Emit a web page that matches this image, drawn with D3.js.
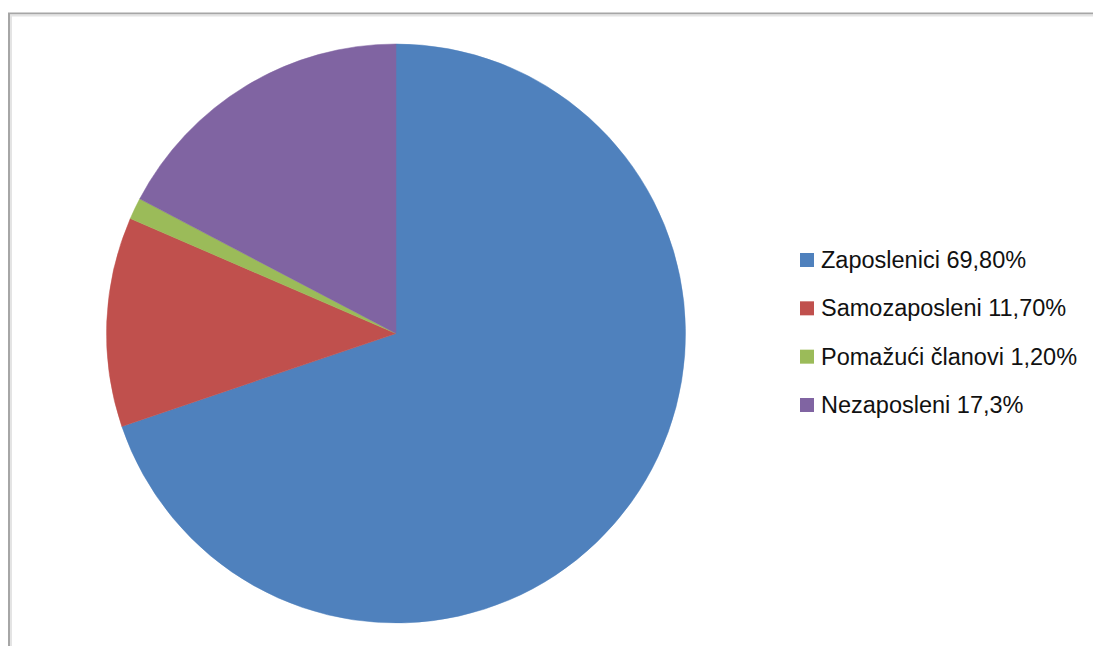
<!DOCTYPE html>
<html>
<head>
<meta charset="utf-8">
<script src="https://cdn.jsdelivr.net/npm/d3@7"></script>
<style>
  html, body { margin: 0; padding: 0; background: #fff; }
  svg { display: block; }
</style>
</head>
<body>
<svg id="chart" width="1093" height="646"></svg>
<script>
const categories = ["Zaposlenici", "Samozaposleni", "Pomažući članovi", "Nezaposleni"];
const values = [69.8, 11.7, 1.2, 17.3];
const legendLabels = ["Zaposlenici 69,80%", "Samozaposleni 11,70%", "Pomažući članovi 1,20%", "Nezaposleni 17,3%"];
const colors = ["#4F81BD", "#C0504D", "#9BBB59", "#8064A2"];

const svg = d3.select("#chart");

// chart area border (extends beyond right/bottom of view)
svg.append("path")
  .attr("d", "M9,650 L9,13.5 L1100,13.5")
  .attr("fill", "none")
  .attr("stroke", "#a6a6a6")
  .attr("stroke-width", 2);
svg.append("path")
  .attr("d", "M11,650 L11,15.5 L1100,15.5")
  .attr("fill", "none")
  .attr("stroke", "#e4e4e4")
  .attr("stroke-width", 2);

const cx = 396, cy = 333.5, r = 289.5;

const pie = d3.pie().sort(null).value(d => d.v);
const arcs = pie(categories.map((c, i) => ({ c, v: values[i], color: colors[i] })));
const arc = d3.arc().innerRadius(0).outerRadius(r);

svg.append("g")
  .attr("transform", `translate(${cx},${cy})`)
  .selectAll("path")
  .data(arcs)
  .join("path")
  .attr("d", arc)
  .attr("fill", d => d.data.color)
  .attr("stroke", d => d.data.color)
  .attr("stroke-width", 0.5);

// legend
const legendY = d3.scalePoint().domain(categories).range([268, 413]);
const lg = svg.append("g");
const items = lg.selectAll("g").data(categories).join("g")
  .attr("transform", d => `translate(0,${legendY(d)})`);
items.append("rect")
  .attr("x", 800).attr("y", -15)
  .attr("width", 14).attr("height", 14)
  .attr("fill", (d, i) => colors[i]);
items.append("text")
  .attr("x", 821).attr("y", 0)
  .attr("font-family", "'Liberation Sans', Arial, sans-serif")
  .attr("font-size", 23.5)
  .attr("fill", "#111")
  .text((d, i) => legendLabels[i]);
</script>
</body>
</html>
